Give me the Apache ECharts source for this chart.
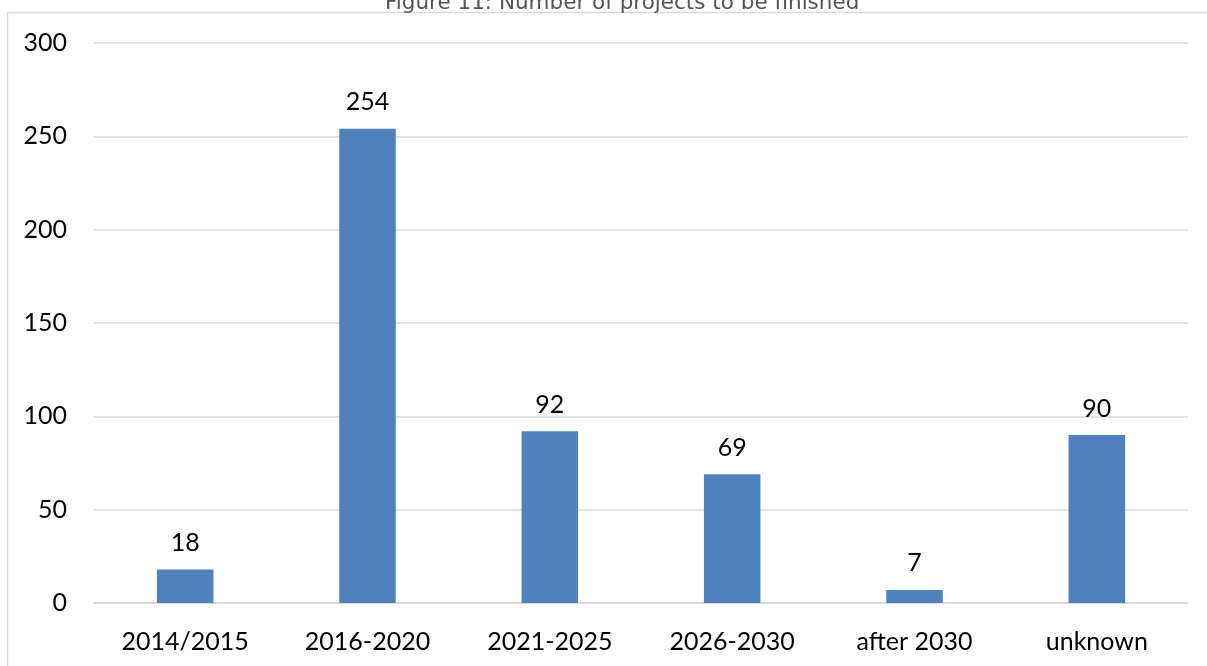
<!DOCTYPE html>
<html>
<head>
<meta charset="utf-8">
<script src="https://cdn.jsdelivr.net/npm/echarts@6/dist/echarts.min.js"></script>
<style>
  html, body { margin: 0; padding: 0; background: #ffffff; }
  #chart { width: 1207px; height: 666px; }
</style>
</head>
<body>
<div id="chart"></div>
<script>
// Completion periods and the number of projects expected in each
const categories = ['2014/2015', '2016-2020', '2021-2025', '2026-2030', 'after 2030', 'unknown'];
const projectCounts = [18, 254, 92, 69, 7, 90];
const titleText = 'Figure 11: Number of projects to be finished';

const chart = echarts.init(document.getElementById('chart'), null, { renderer: 'canvas' });

const labelFont = 'Lato, "Liberation Sans", sans-serif';
const frameStyle = { stroke: '#d9d9d9', lineWidth: 1.5 };

chart.setOption({
  animation: false,
  backgroundColor: '#ffffff',
  title: {
    text: titleText,
    left: 385,
    top: -8,
    padding: 0,
    textStyle: {
      fontFamily: '"DejaVu Sans", Verdana, sans-serif',
      fontSize: 21.5,
      fontWeight: 'normal',
      color: '#545454'
    }
  },
  // chart frame: top and left edges
  graphic: [
    { type: 'line', shape: { x1: 7.5, y1: 12.5, x2: 1207, y2: 12.5 }, style: frameStyle, silent: true, z: -1 },
    { type: 'line', shape: { x1: 7.5, y1: 12.5, x2: 7.5, y2: 666 }, style: frameStyle, silent: true, z: -1 }
  ],
  grid: { left: 94, right: 19, top: 43, bottom: 63, containLabel: false },
  xAxis: {
    type: 'category',
    data: categories,
    axisLine: { show: true, lineStyle: { color: '#d9d9d9', width: 1.5 } },
    axisTick: { show: false },
    axisLabel: {
      fontFamily: labelFont,
      fontSize: 25,
      color: '#000000',
      margin: 26
    }
  },
  yAxis: {
    type: 'value',
    min: 0,
    max: 300,
    interval: 50,
    axisLine: { show: false },
    axisTick: { show: false },
    splitLine: { lineStyle: { color: '#d9d9d9', width: 1.5 } },
    axisLabel: {
      fontFamily: labelFont,
      fontSize: 25,
      color: '#000000',
      margin: 27
    }
  },
  series: [{
    type: 'bar',
    data: projectCounts,
    barWidth: '31%',
    itemStyle: { color: '#4f81bd' },
    label: {
      show: true,
      position: 'top',
      distance: 14,
      fontFamily: labelFont,
      fontSize: 25,
      color: '#000000'
    }
  }]
});
</script>
</body>
</html>
